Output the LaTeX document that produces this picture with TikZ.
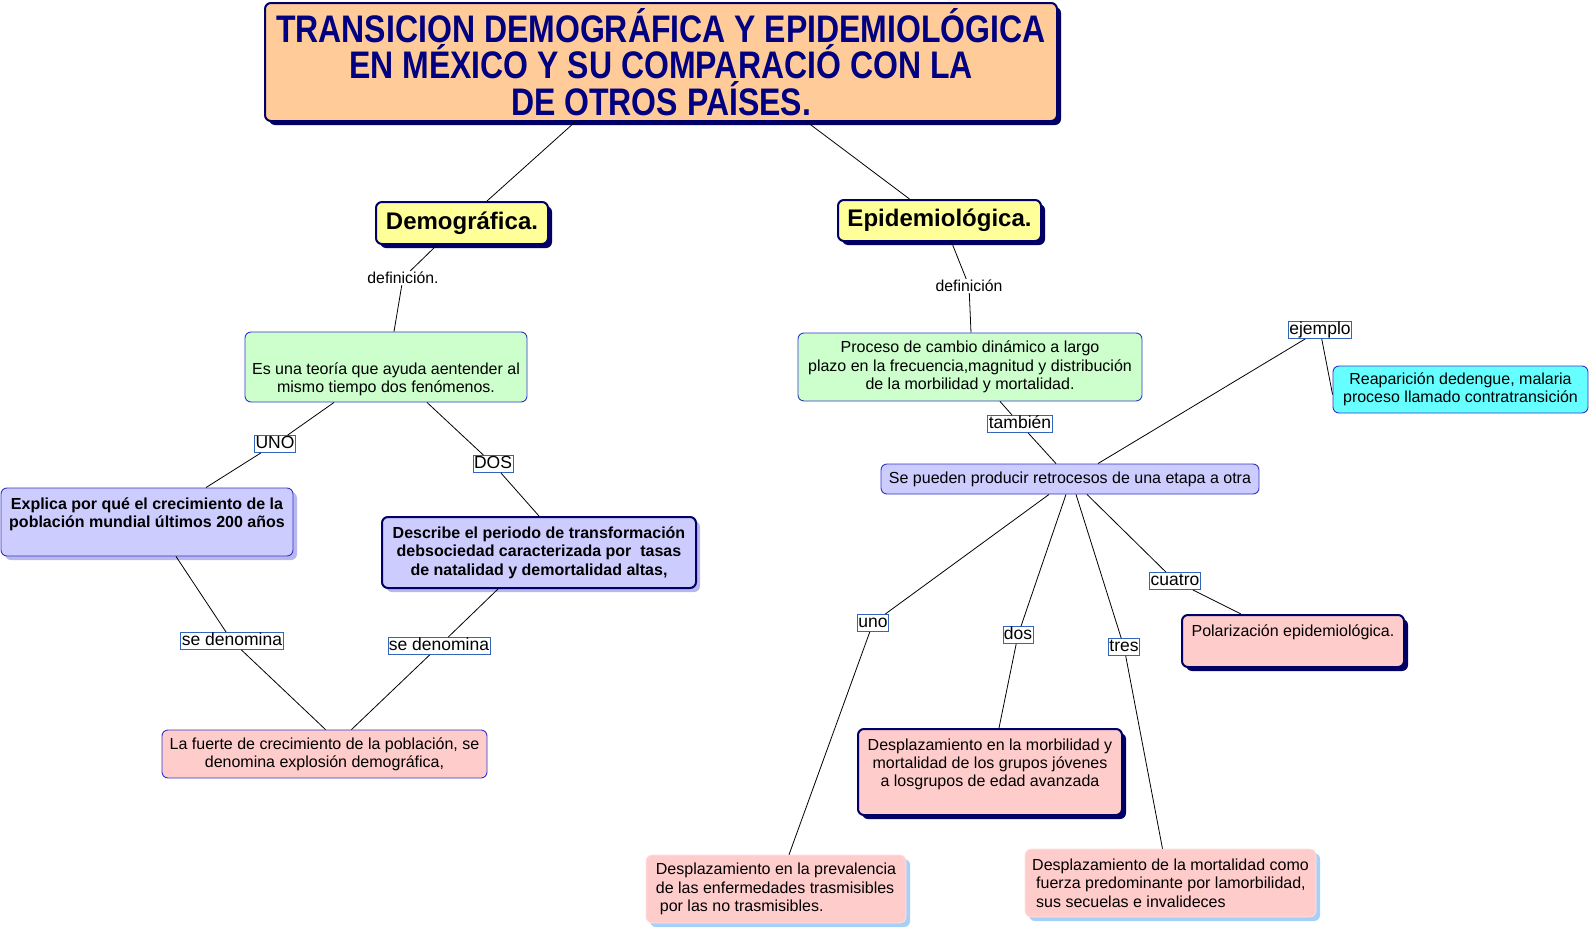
\documentclass[tikz,border=0pt]{standalone}
\usepackage{fontspec}
\usepackage{graphicx}
\setmainfont{Liberation Sans}
\usetikzlibrary{shadows}
\definecolor{navy}{HTML}{000066}
\definecolor{titlecol}{HTML}{000080}
\definecolor{peach}{HTML}{FFCC99}
\definecolor{yel}{HTML}{FFFF99}
\definecolor{grn}{HTML}{CCFFCC}
\definecolor{lav}{HTML}{CCCCFF}
\definecolor{pnk}{HTML}{FFCCCC}
\definecolor{cyn}{HTML}{66FFFF}
\definecolor{bord}{HTML}{3333CC}
\definecolor{labbord}{HTML}{3366BB}
\definecolor{lshadow}{HTML}{B8B8EC}
\definecolor{bshadow}{HTML}{A6D0F8}
\definecolor{pnkbord}{HTML}{FFE4E4}
\begin{document}
\begin{tikzpicture}[x=1pt,y=-1pt,
  box/.style={rounded corners=6pt, inner sep=0pt, align=center,
    font=\fontsize{16}{18.3}\selectfont},
  thinb/.style={draw=bord, line width=0.9pt},
  thickb/.style={draw=navy, line width=2pt},
  dshadow/.style={drop shadow={shadow xshift=4pt,shadow yshift=-4pt,opacity=1,fill=#1}},
  lab/.style={fill=white, inner xsep=1pt, inner ysep=0.5pt, text height=12.5pt,
    text depth=3.5pt, font=\fontsize{17.5}{20}\selectfont},
  blab/.style={lab, draw=labbord, line width=0.8pt},
  plab/.style={fill=white, inner sep=1pt, font=\fontsize{15.8}{18}\selectfont},
  conn/.style={draw=black, line width=0.8pt}]
\useasboundingbox[fill=white] (0,0) rectangle (1591,929);

% main nodes
\node[box, thickb, fill=peach, dshadow=navy, minimum width=792pt, minimum height=118pt, text=titlecol] (title) at (661,62)
  {\scalebox{1}[1.2]{\parbox{780pt}{\centering\fontsize{32}{30.4}\selectfont\bfseries TRANSICION DEMOGRÁFICA Y EPIDEMIOLÓGICA\\ EN MÉXICO Y SU COMPARACIÓ CON LA\\ DE OTROS PAÍSES.}}};

\node[box, thickb, fill=yel, dshadow=navy, minimum width=172pt, minimum height=42pt, font=\fontsize{24}{28}\selectfont\bfseries] (demog) at (462,223) {Demográfica.};
\node[box, thickb, fill=yel, dshadow=navy, minimum width=203pt, minimum height=41pt, font=\fontsize{24}{28}\selectfont\bfseries] (epid) at (939.5,220.5) {Epidemiológica.};

\node[box, thinb, fill=grn, minimum width=282pt, minimum height=70pt] (green1) at (386,367)
  {\parbox[c][68pt][t]{274pt}{\centering\rule{0pt}{41pt}Es una teoría que ayuda aentender al\\ mismo tiempo dos fenómenos.}};

\node[box, thinb, fill=lav, dshadow=lshadow, minimum width=292pt, minimum height=68pt] (blue1) at (147,522)
  {\parbox[c][66pt][t]{284pt}{\centering\bfseries\rule{0pt}{20pt}Explica por qué el crecimiento de la\\ población mundial últimos 200 años}};

\node[box, thickb, fill=lav, dshadow=lshadow, minimum width=314pt, minimum height=71pt, font=\fontsize{16}{18.3}\selectfont\bfseries] (blue2) at (539,552.5)
  {Describe el periodo de transformación\\ debsociedad caracterizada por\ \ tasas\\ de natalidad y demortalidad altas,};

\node[box, thinb, fill=pnk, minimum width=325pt, minimum height=48pt] (fuerte) at (324.5,754)
  {La fuerte de crecimiento de la población, se\\ denomina explosión demográfica,};

\node[box, thinb, fill=grn, minimum width=344pt, minimum height=68pt] (green2) at (970,367)
  {Proceso de cambio dinámico a largo\\ plazo en la frecuencia,magnitud y distribución\\ de la morbilidad y mortalidad.};

\node[box, thinb, fill=lav, minimum width=378pt, minimum height=30pt] (retro) at (1070,479)
  {Se pueden producir retrocesos de una etapa a otra};

\node[box, thinb, fill=cyn, minimum width=255pt, minimum height=47pt] (cyan) at (1460.5,389.5)
  {Reaparición dedengue, malaria\\ proceso llamado contratransición};

\node[box, thickb, fill=pnk, dshadow=navy, minimum width=222pt, minimum height=52pt] (polar) at (1293,641)
  {\parbox[c][50pt][t]{214pt}{\centering\rule{0pt}{20pt}Polarización epidemiológica.}};

\node[box, thickb, fill=pnk, dshadow=navy, minimum width=264pt, minimum height=86pt] (morb) at (990,772)
  {\parbox[c][84pt][t]{256pt}{\centering\rule{0pt}{20pt}Desplazamiento en la morbilidad y\\ mortalidad de los grupos jóvenes\\ a losgrupos de edad avanzada}};

\node[box, draw=pnkbord, line width=0.6pt, fill=pnk, dshadow=bshadow, minimum width=260pt, minimum height=68pt, align=left] (prev) at (776,889)
  {Desplazamiento en la prevalencia\\ de las enfermedades trasmisibles\\ \hspace*{4pt}por las no trasmisibles.};

\node[box, draw=pnkbord, line width=0.6pt, fill=pnk, dshadow=bshadow, minimum width=291pt, minimum height=68pt, align=left] (mort) at (1170.5,883)
  {Desplazamiento de la mortalidad como\\ \hspace*{4pt}fuerza predominante por lamorbilidad,\\ \hspace*{4pt}sus secuelas e invalideces};

% labels
\node[plab] (def1) at (403,278) {definición.};
\node[plab] (def2) at (969,286) {definición};
\node[blab] (uno1) at (275,444) {UNO};
\node[blab] (dos1) at (493,464) {DOS};
\node[blab] (sd1) at (232,641) {se denomina};
\node[blab] (sd2) at (439,646) {se denomina};
\node[blab] (tamb) at (1020,424) {también};
\node[blab] (ejem) at (1320,330) {ejemplo};
\node[blab] (uno2) at (873,623) {uno};
\node[blab] (dos2) at (1018,635) {dos};
\node[blab] (tres) at (1124,647) {tres};
\node[blab] (cuatro) at (1175,581) {cuatro};

% connectors
\draw[conn] ([xshift=-86pt]title.south) -- ([xshift=25pt]demog.north);
\draw[conn] ([xshift=146pt]title.south) -- ([xshift=-30pt]epid.north);
\draw[conn] ([xshift=-25pt]demog.south) -- (def1) -- ([xshift=8pt]green1.north);
\draw[conn] ([xshift=-52pt]green1.south) -- (uno1) -- ([xshift=59pt]blue1.north);
\draw[conn] ([xshift=41pt]green1.south) -- (dos1) -- (blue2.north);
\draw[conn] ([xshift=29pt]blue1.south) -- (sd1) -- ([xshift=1pt]fuerte.north);
\draw[conn] ([xshift=-41pt]blue2.south) -- (sd2) -- ([xshift=27pt]fuerte.north);
\draw[conn] ([xshift=12pt]epid.south) -- (def2) -- ([xshift=1pt]green2.north);
\draw[conn] ([xshift=30pt]green2.south) -- (tamb) -- ([xshift=-14pt]retro.north);
\draw[conn] ([xshift=28pt]retro.north) -- (ejem) -- ([yshift=-5pt]cyan.west);
\draw[conn] ([xshift=-21pt]retro.south) -- (uno2) -- ([xshift=13pt]prev.north);
\draw[conn] ([xshift=-4pt]retro.south) -- (dos2) -- ([xshift=9pt]morb.north);
\draw[conn] ([xshift=6pt]retro.south) -- (tres) -- ([xshift=-8pt]mort.north);
\draw[conn] ([xshift=17pt]retro.south) -- (cuatro) -- ([xshift=-52pt]polar.north);
\end{tikzpicture}
\end{document}
